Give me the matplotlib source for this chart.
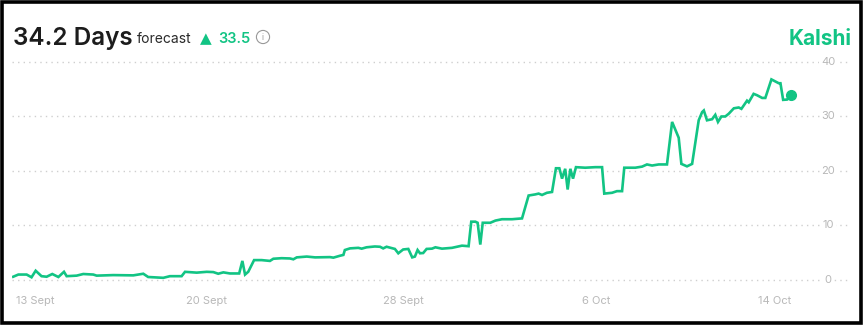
import matplotlib.pyplot as plt
import matplotlib.transforms as mtransforms
from matplotlib.patches import Rectangle

# days since 13 Sept
days = [-0.89, -0.68, -0.34, -0.14, 0.03, 0.27, 0.48, 0.71, 0.96, 1.19, 1.30, 1.71,
        1.98, 2.39, 2.53, 3.21, 4.03, 4.44, 4.64, 5.26, 5.53, 6.01, 6.15, 6.63,
        7.04, 7.31, 7.51, 7.72, 7.99, 8.37, 8.50, 8.61, 8.74, 8.98, 9.29, 9.63,
        9.77, 10.11, 10.45, 10.59, 10.73, 11.14, 11.48, 12.09, 12.23, 12.50, 12.64,
        12.70, 12.91, 13.25, 13.39, 13.59, 13.93, 14.14, 14.27, 14.41, 14.75, 14.89,
        15.09, 15.30, 15.46, 15.57, 15.68, 15.78, 15.91, 16.05, 16.27,
        16.41, 16.68, 17.09, 17.50, 17.77, 17.88, 18.05, 18.14, 18.25, 18.35, 18.66,
        18.87, 19.14, 19.55, 19.96, 20.23, 20.50, 20.64, 20.78, 20.98, 21.19, 21.35,
        21.49, 21.60, 21.73, 21.83, 21.94, 22.05, 22.17, 22.55, 22.96, 23.24, 23.33,
        23.65, 23.85, 24.06, 24.15, 24.60, 24.88, 25.08, 25.29, 25.56, 25.90, 26.11,
        26.38, 26.49, 26.72, 26.93, 27.20, 27.34, 27.41, 27.54, 27.75, 27.88, 27.99,
        28.13, 28.29, 28.43, 28.64, 28.84, 28.95, 29.18, 29.25, 29.45, 29.59, 29.80,
        29.93, 30.18, 30.48, 30.55, 30.66, 30.82, 31.0]
values = [0.6, 1.0, 1.0, 0.5, 1.7, 0.7, 0.6, 1.1, 0.55, 1.5, 0.7, 0.8,
          1.1, 1.0, 0.8, 0.9, 0.85, 1.15, 0.55, 0.4, 0.7, 0.7, 1.5, 1.35,
          1.5, 1.45, 1.15, 1.4, 1.2, 1.2, 3.5, 1.0, 1.5, 3.65, 3.65, 3.5,
          3.9, 4.0, 3.95, 3.8, 4.15, 4.3, 4.15, 4.2, 4.1, 4.45, 4.6,
          5.5, 5.8, 5.9, 5.75, 6.0, 6.15, 6.1, 5.8, 6.1, 5.7, 4.9,
          5.6, 5.7, 4.15, 4.3, 5.5, 4.9, 4.95, 5.7, 5.75,
          6.0, 5.75, 5.9, 6.3, 6.2, 10.7, 10.7, 10.5, 6.5, 10.5, 10.5,
          10.9, 11.15, 11.15, 11.3, 15.5, 15.7, 15.85, 15.6, 16.0, 16.15, 20.5,
          20.5, 18.6, 20.4, 16.6, 20.4, 18.6, 20.7, 20.6, 20.7, 20.7, 15.85,
          16.0, 16.3, 16.3, 20.6, 20.6, 20.8, 21.2, 21.0, 21.2, 21.2, 29.0,
          26.1, 21.3, 20.85, 21.3, 29.3, 30.8, 31.1, 29.3, 29.5, 30.3, 29.0,
          30.0, 30.0, 30.5, 31.5, 31.65, 31.4, 32.9, 32.6, 34.15, 33.9, 33.4,
          33.4, 36.8, 36.1, 36.1, 33.05, 33.1, 34.0]

tick_pos = [0, 7.05, 15.1, 23.0, 30.3]
tick_labels = ["13 Sept", "20 Sept", "28 Sept", "6 Oct", "14 Oct"]
y_ticks = [0, 10, 20, 30, 40]

green = "#12c484"
gray = "#b8b8b8"
plt.rcParams["font.family"] = ["Inter", "DejaVu Sans"]

fig = plt.figure(figsize=(8.64, 3.29), dpi=100)
ax = fig.add_axes([12 / 864, 0.1158, 838 / 864, 0.7207])

ax.plot(days, values, color=green, lw=1.9, solid_joinstyle="miter")
ax.plot(days[-1], values[-1], "o", color=green, ms=7)

ax.set_xlim(-0.94, 33.4)
ax.set_ylim(-2, 41.5)
ax.set_yticks(y_ticks)
ax.yaxis.grid(True, color="#cfcfcf", lw=1, linestyle=(0, (1, 3)))
ax.tick_params(axis="y", length=0, labelleft=False)
for s in ax.spines.values():
    s.set_visible(False)

ax.set_xticks(tick_pos)
ax.set_xticklabels(tick_labels, color=gray, fontsize=8)
ax.tick_params(axis="x", length=0, pad=4)

trans = mtransforms.blended_transform_factory(ax.transAxes, ax.transData)
for v in y_ticks:
    ax.text(0.974, v, str(v), transform=trans, ha="center", va="center",
            fontsize=8, color=gray,
            bbox=dict(boxstyle="square,pad=0.15", fc="white", ec="none"))

# header
fig.text(13 / 864, 1 - 45 / 329, "34.2 Days", fontsize=17.5, weight="semibold",
         color="#1c1c1c", va="baseline")
fig.text(137 / 864, 1 - 43 / 329, "forecast", fontsize=10, color="#2a2a2a",
         va="baseline")
fig.text(200 / 864, 1 - 43 / 329, "▲", fontsize=11, color=green, va="baseline",
         family=["DejaVu Sans"])
fig.text(218 / 864, 1 - 43 / 329, "33.5", fontsize=10.5, weight="semibold",
         color=green, va="baseline")
fig.text(263 / 864, 1 - 37 / 329, "i", fontsize=6, color="#999999",
         ha="center", va="center",
         bbox=dict(boxstyle="circle,pad=0.25", fc="none", ec="#999999", lw=0.8))
fig.text(852 / 864, 1 - 45 / 329, "Kalshi", fontsize=15, weight="bold",
         color=green, ha="right", va="baseline")

# black frame around the card
fig.patches.append(Rectangle((2 / 864, 1 - 323 / 329), 859 / 864, 321 / 329,
                             transform=fig.transFigure, fill=False,
                             ec="black", lw=2.6))

fig.savefig("out.png", dpi=100)
